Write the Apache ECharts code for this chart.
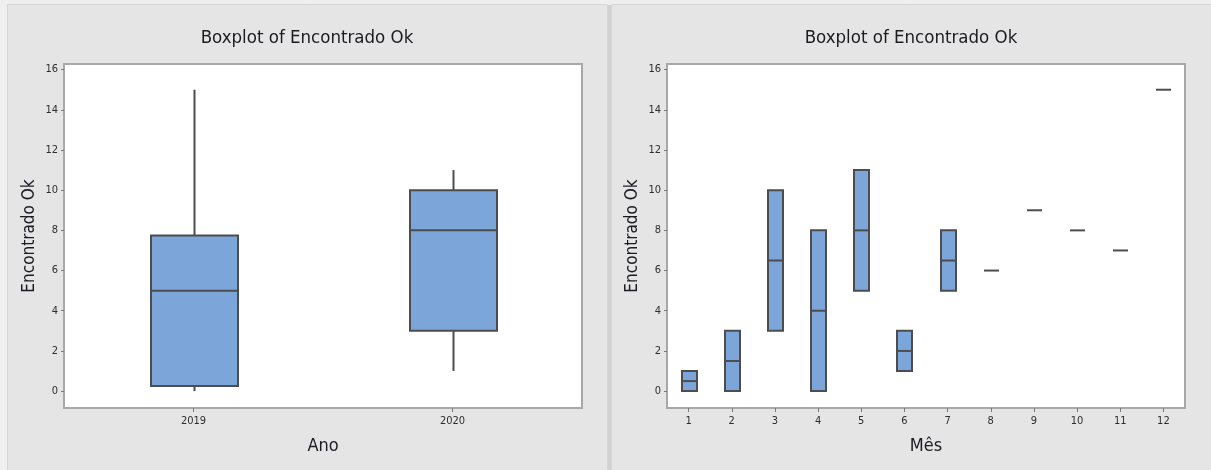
<!DOCTYPE html>
<html>
<head>
<meta charset="utf-8">
<script src="https://cdn.jsdelivr.net/npm/echarts@6/dist/echarts.min.js"></script>
<style>
  html, body { margin: 0; padding: 0; background: #efefef; }
  #chart { width: 1211px; height: 470px; }
</style>
</head>
<body>
<div id="chart"></div>
<script>
// ---- text ----
const chartTitle = 'Boxplot of Encontrado Ok';
const valueName = 'Encontrado Ok';
const yearName = 'Ano';
const monthName = 'Mês';
const valueTicks = [0, 2, 4, 6, 8, 10, 12, 14, 16];

// ---- by year: five-number summaries ----
const years = ['2019', '2020'];
const yearMin = [0, 1];
const yearQ1 = [0.25, 3];
const yearMedian = [5, 8];
const yearQ3 = [7.75, 10];
const yearMax = [15, 11];

// ---- by month: low / median / high ----
const months = ['1', '2', '3', '4', '5', '6', '7', '8', '9', '10', '11', '12'];
const monthLow = [0, 0, 3, 0, 5, 1, 5, 6, 9, 8, 7, 15];
const monthMedian = [0.5, 1.5, 6.5, 4, 8, 2, 6.5, 6, 9, 8, 7, 15];
const monthHigh = [1, 3, 10, 8, 11, 3, 8, 6, 9, 8, 7, 15];

// ---- style ----
const FONT = "'Liberation Sans Narrow', 'DejaVu Sans Condensed', 'Arial Narrow', sans-serif";
const TEXT = '#1b1b22';
const TICK_TEXT = '#2e2e2e';
const BOX_FILL = '#7ca6d9';
const EDGE = '#4d4d4d';
const FRAME = '#a8a8a8';
const TICK = '#7a7a7a';

const yearRows = years.map((y, i) => [i, yearMin[i], yearQ1[i], yearMedian[i], yearQ3[i], yearMax[i]]);
const monthRows = months.map((m, i) => [i, monthLow[i], monthLow[i], monthMedian[i], monthHigh[i], monthHigh[i]]);

// Box with whiskers (no end caps), median bar across the box.
function drawBox(frac) {
  return function (params, api) {
    const idx = api.value(0);
    const yMin = api.coord([idx, api.value(1)])[1];
    const yQ1 = api.coord([idx, api.value(2)])[1];
    const pMed = api.coord([idx, api.value(3)]);
    const yQ3 = api.coord([idx, api.value(4)])[1];
    const yMax = api.coord([idx, api.value(5)])[1];
    const cx = Math.round(pMed[0]) + 0.5;
    const w = Math.round(api.size([1, 0])[0] * frac);
    const line = { stroke: EDGE, lineWidth: 2 };
    const children = [];
    if (yQ3 - yMax > 0.5) {
      children.push({ type: 'line', shape: { x1: cx, y1: yMax, x2: cx, y2: yQ3 }, style: line });
    }
    if (yMin - yQ1 > 0.5) {
      children.push({ type: 'line', shape: { x1: cx, y1: yQ1, x2: cx, y2: yMin }, style: line });
    }
    if (yQ1 - yQ3 > 0.5) {
      children.push({
        type: 'rect',
        shape: { x: cx - w / 2, y: yQ3, width: w, height: yQ1 - yQ3 },
        style: { fill: BOX_FILL, stroke: EDGE, lineWidth: 2 }
      });
    }
    children.push({
      type: 'line',
      shape: { x1: cx - w / 2, y1: pMed[1], x2: cx + w / 2, y2: pMed[1] },
      style: line
    });
    return { type: 'group', children };
  };
}

function categoryAxis(gridIndex, cats, name) {
  return {
    type: 'category',
    gridIndex,
    data: cats,
    boundaryGap: true,
    name,
    nameLocation: 'middle',
    nameGap: 29,
    nameTextStyle: { fontFamily: FONT, fontSize: 18, color: TEXT },
    axisLine: { show: false, onZero: false },
    axisTick: { show: true, alignWithLabel: true, length: 4, lineStyle: { color: TICK, width: 1 } },
    axisLabel: { margin: 8, interval: 0, fontFamily: FONT, fontSize: 11, color: TICK_TEXT },
    splitLine: { show: false }
  };
}

function valueAxis(gridIndex) {
  return {
    type: 'value',
    gridIndex,
    min: -0.84,
    max: 16.28,
    name: valueName,
    nameLocation: 'middle',
    nameGap: 26,
    nameTextStyle: { fontFamily: FONT, fontSize: 17, color: TEXT },
    axisLine: { show: false, onZero: false },
    axisTick: { show: true, length: 3, customValues: valueTicks, lineStyle: { color: TICK, width: 1 } },
    axisLabel: { margin: 6, customValues: valueTicks, fontFamily: FONT, fontSize: 11, color: TICK_TEXT },
    splitLine: { show: false }
  };
}

function titleText(cx) {
  return {
    type: 'text',
    z: 10,
    style: {
      text: chartTitle,
      x: cx,
      y: 38,
      align: 'center',
      verticalAlign: 'middle',
      fontFamily: FONT,
      fontSize: 18.5,
      fill: TEXT
    }
  };
}

const chart = echarts.init(document.getElementById('chart'), null, { renderer: 'canvas' });
chart.setOption({
  backgroundColor: '#efefef',
  animation: false,
  graphic: [
    { type: 'rect', z: -10, shape: { x: 7.5, y: 4.5, width: 600, height: 470 }, style: { fill: '#e5e5e5', stroke: '#d6d6d6', lineWidth: 1 } },
    { type: 'rect', z: -10, shape: { x: 611.5, y: 4.5, width: 605, height: 470 }, style: { fill: '#e5e5e5', stroke: '#d6d6d6', lineWidth: 1 } },
    { type: 'rect', z: -10, shape: { x: 608, y: 5, width: 3, height: 465 }, style: { fill: '#d2d2d2' } },
    titleText(307),
    titleText(911)
  ],
  grid: [
    { left: 64, top: 64, width: 518, height: 344, show: true, backgroundColor: '#ffffff', borderColor: FRAME, borderWidth: 2 },
    { left: 667, top: 64, width: 518, height: 344, show: true, backgroundColor: '#ffffff', borderColor: FRAME, borderWidth: 2 }
  ],
  xAxis: [categoryAxis(0, years, yearName), categoryAxis(1, months, monthName)],
  yAxis: [valueAxis(0), valueAxis(1)],
  series: [
    {
      type: 'custom',
      name: yearName,
      xAxisIndex: 0,
      yAxisIndex: 0,
      renderItem: drawBox(0.335),
      encode: { x: 0, y: [1, 2, 3, 4, 5] },
      data: yearRows
    },
    {
      type: 'custom',
      name: monthName,
      xAxisIndex: 1,
      yAxisIndex: 1,
      renderItem: drawBox(0.34),
      encode: { x: 0, y: [1, 2, 3, 4, 5] },
      data: monthRows
    }
  ]
});
</script>
</body>
</html>
